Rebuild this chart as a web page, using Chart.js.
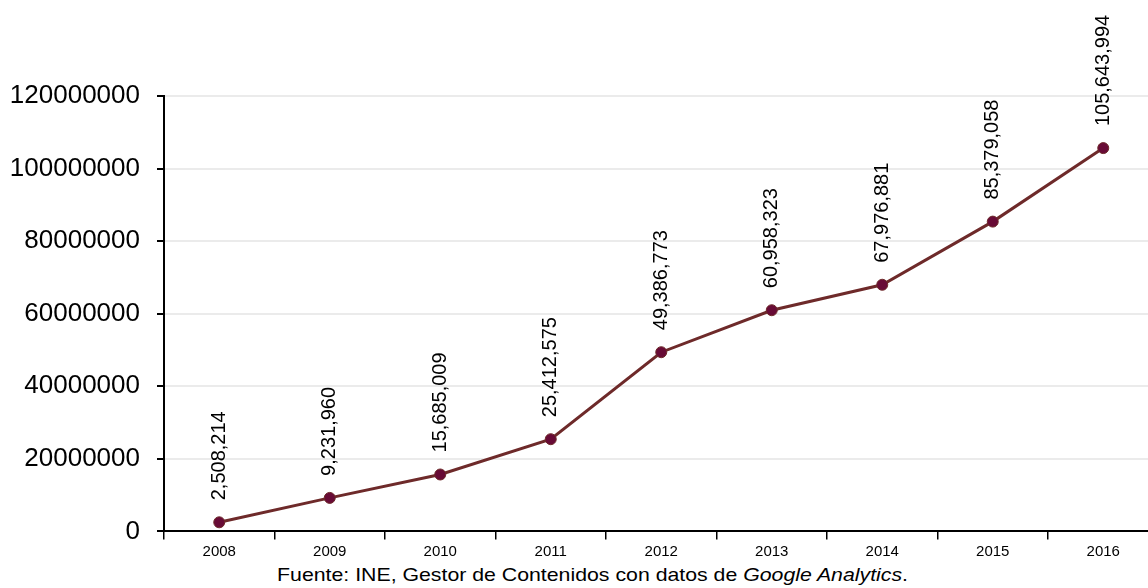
<!DOCTYPE html>
<html>
<head>
<meta charset="utf-8">
<script src="https://cdn.jsdelivr.net/npm/chart.js@4"></script>
<style>
  body { margin: 0; overflow: hidden; background: #fff; font-family: "Liberation Sans", Arial, sans-serif; }
  #wrap { position: absolute; left: 0; top: 0; width: 1165px; height: 564px; }
  #nota { position: absolute; left: 0; top: 564px; width: 1185px; text-align: center; font-size: 19px; color: #000;
          transform: scaleX(1.12); transform-origin: 592px 0; }
</style>
</head>
<body>
<div id="wrap"><canvas id="lineChart"></canvas></div>
<div id="nota">Fuente: INE, Gestor de Contenidos con datos de <i>Google Analytics</i>.</div>
<script>
const anios = ["2008", "2009", "2010", "2011", "2012", "2013", "2014", "2015", "2016"];
const visitas = [2508214, 9231960, 15685009, 25412575, 49386773, 60958323, 67976881, 85379058, 105643994];
const yMax = 120000000;
const yPaso = 20000000;

// etiquetas verticales encima de cada punto
const etiquetas = {
    id: "etiquetas",
    afterDatasetsDraw(chart) {
        const ctx = chart.ctx;
        const meta = chart.getDatasetMeta(0);
        ctx.save();
        ctx.fillStyle = "#000";
        ctx.font = "20px 'Liberation Sans', Arial, sans-serif";
        ctx.textAlign = "left";
        ctx.textBaseline = "middle";
        meta.data.forEach(function (p, i) {
            ctx.save();
            ctx.translate(p.x, p.y - 22);
            ctx.rotate(-Math.PI / 2);
            ctx.fillText(visitas[i].toLocaleString("en-US"), 0, 0);
            ctx.restore();
        });
        ctx.restore();
    },
};

document.addEventListener("DOMContentLoaded", function () {
    const ctx = document.getElementById("lineChart").getContext("2d");
    new Chart(ctx, {
        type: "line",
        data: {
            labels: anios,
            datasets: [
                {
                    data: visitas,
                    borderColor: "#6e2a2a",
                    borderWidth: 3,
                    pointRadius: 5.5,
                    pointBackgroundColor: "#680b36",
                    pointBorderColor: "#6e2a2a",
                    pointBorderWidth: 1,
                    tension: 0,
                    fill: false,
                },
            ],
        },
        options: {
            responsive: true,
            maintainAspectRatio: false,
            animation: false,
            layout: { padding: { top: 96, left: 0, right: 1, bottom: 0 } },
            plugins: {
                legend: { display: false },
                tooltip: { enabled: false },
            },
            scales: {
                x: {
                    offset: true,
                    grid: { offset: true, drawOnChartArea: false, color: "#000", tickLength: 8, lineWidth: 1.5 },
                    border: { color: "#000", width: 2 },
                    ticks: { color: "#000", font: { family: "'Liberation Sans', Arial", size: 15 }, padding: 3 },
                },
                y: {
                    min: 0,
                    max: yMax,
                    afterFit: function (s) { s.width = 164; },
                    ticks: {
                        stepSize: yPaso,
                        color: "#000",
                        font: { family: "'Liberation Sans', Arial", size: 26 },
                        padding: 17,
                        callback: function (v) { return String(v); },
                    },
                    grid: { color: "#ebebeb", lineWidth: 2, tickColor: "#000", tickLength: 7 },
                    border: { color: "#000", width: 2 },
                },
            },
        },
        plugins: [etiquetas],
    });
});
</script>
</body>
</html>
